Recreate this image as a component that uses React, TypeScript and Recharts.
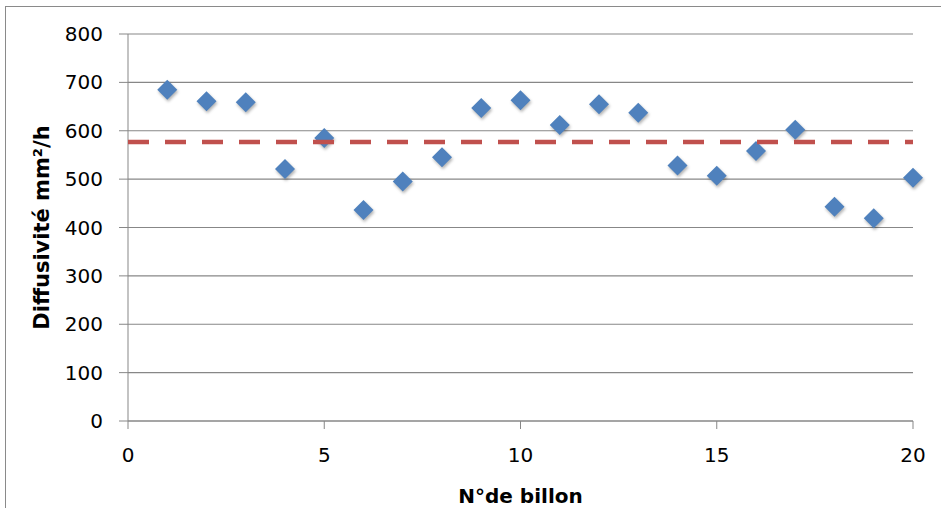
import React from "react";
import { ScatterChart, Scatter, XAxis, YAxis, CartesianGrid } from "recharts";

const billons = [1, 2, 3, 4, 5, 6, 7, 8, 9, 10, 11, 12, 13, 14, 15, 16, 17, 18, 19, 20];
const diffusivite = [685, 661, 659, 521, 585, 436, 495, 545, 647, 663, 612, 655, 637, 528, 507, 558, 602, 443, 419, 503];
const moyenne = 577;
const meanRange = [0, 20];
const xTicks = [0, 5, 10, 15, 20];
const yTicks = [0, 100, 200, 300, 400, 500, 600, 700, 800];

const points = billons.map((b, i) => ({ x: b, y: diffusivite[i] }));
const meanLine = meanRange.map((x) => ({ x, y: moyenne }));

const FONT = "'DejaVu Sans', sans-serif";
const GRID = "#878787";

const Diamond = (props: any) => {
  const { cx, cy } = props;
  if (cx == null || cy == null) return null;
  const r = 10;
  return (
    <polygon
      points={`${cx},${cy - r} ${cx + r},${cy} ${cx},${cy + r} ${cx - r},${cy}`}
      fill="#4F81BD"
      style={{ filter: "drop-shadow(1px 2px 1.5px rgba(0,0,0,0.3))" }}
    />
  );
};

const Nothing = () => null;

export default function App() {
  return (
    <div
      style={{
        position: "fixed",
        left: 0,
        top: 0,
        width: 941,
        height: 508,
        overflow: "hidden",
        background: "#fff",
      }}
    >
      <div
        style={{
          position: "absolute",
          left: 5,
          top: 6,
          width: 1000,
          height: 600,
          border: "1px solid #8a8a8a",
        }}
      />
      <div style={{ position: "absolute", left: 0, top: 0 }}>
        <ScatterChart
          width={941}
          height={508}
          margin={{ top: 34, right: 28, bottom: 0, left: 68 }}
        >
          <CartesianGrid horizontal vertical={false} stroke={GRID} strokeWidth={1.2} />
          <XAxis
            type="number"
            dataKey="x"
            domain={[0, 20]}
            ticks={xTicks}
            interval={0}
            height={87}
            stroke={GRID}
            tickSize={8}
            tickMargin={19}
            tick={{ fill: "#000", fontFamily: FONT, fontSize: 20 }}
            label={{
              value: "N°de billon",
              position: "insideBottom",
              offset: 5,
              fill: "#000",
              fontFamily: FONT,
              fontSize: 20,
              fontWeight: "bold",
            }}
          />
          <YAxis
            type="number"
            dataKey="y"
            domain={[0, 800]}
            ticks={yTicks}
            interval={0}
            width={60}
            stroke={GRID}
            tickSize={9}
            tickMargin={16}
            tick={{ fill: "#000", fontFamily: FONT, fontSize: 20 }}
            label={{
              value: "Diffusivité mm²/h",
              angle: -90,
              position: "insideLeft",
              offset: -26,
              style: { textAnchor: "middle" },
              fill: "#000",
              fontFamily: FONT,
              fontSize: 21,
              fontWeight: "bold",
            }}
          />
          <Scatter data={points} shape={<Diamond />} isAnimationActive={false} />
          <Scatter
            data={meanLine}
            shape={<Nothing />}
            line={{ stroke: "#C0504D", strokeWidth: 4.5, strokeDasharray: "21 16" }}
            lineType="joint"
            isAnimationActive={false}
          />
        </ScatterChart>
      </div>
    </div>
  );
}
